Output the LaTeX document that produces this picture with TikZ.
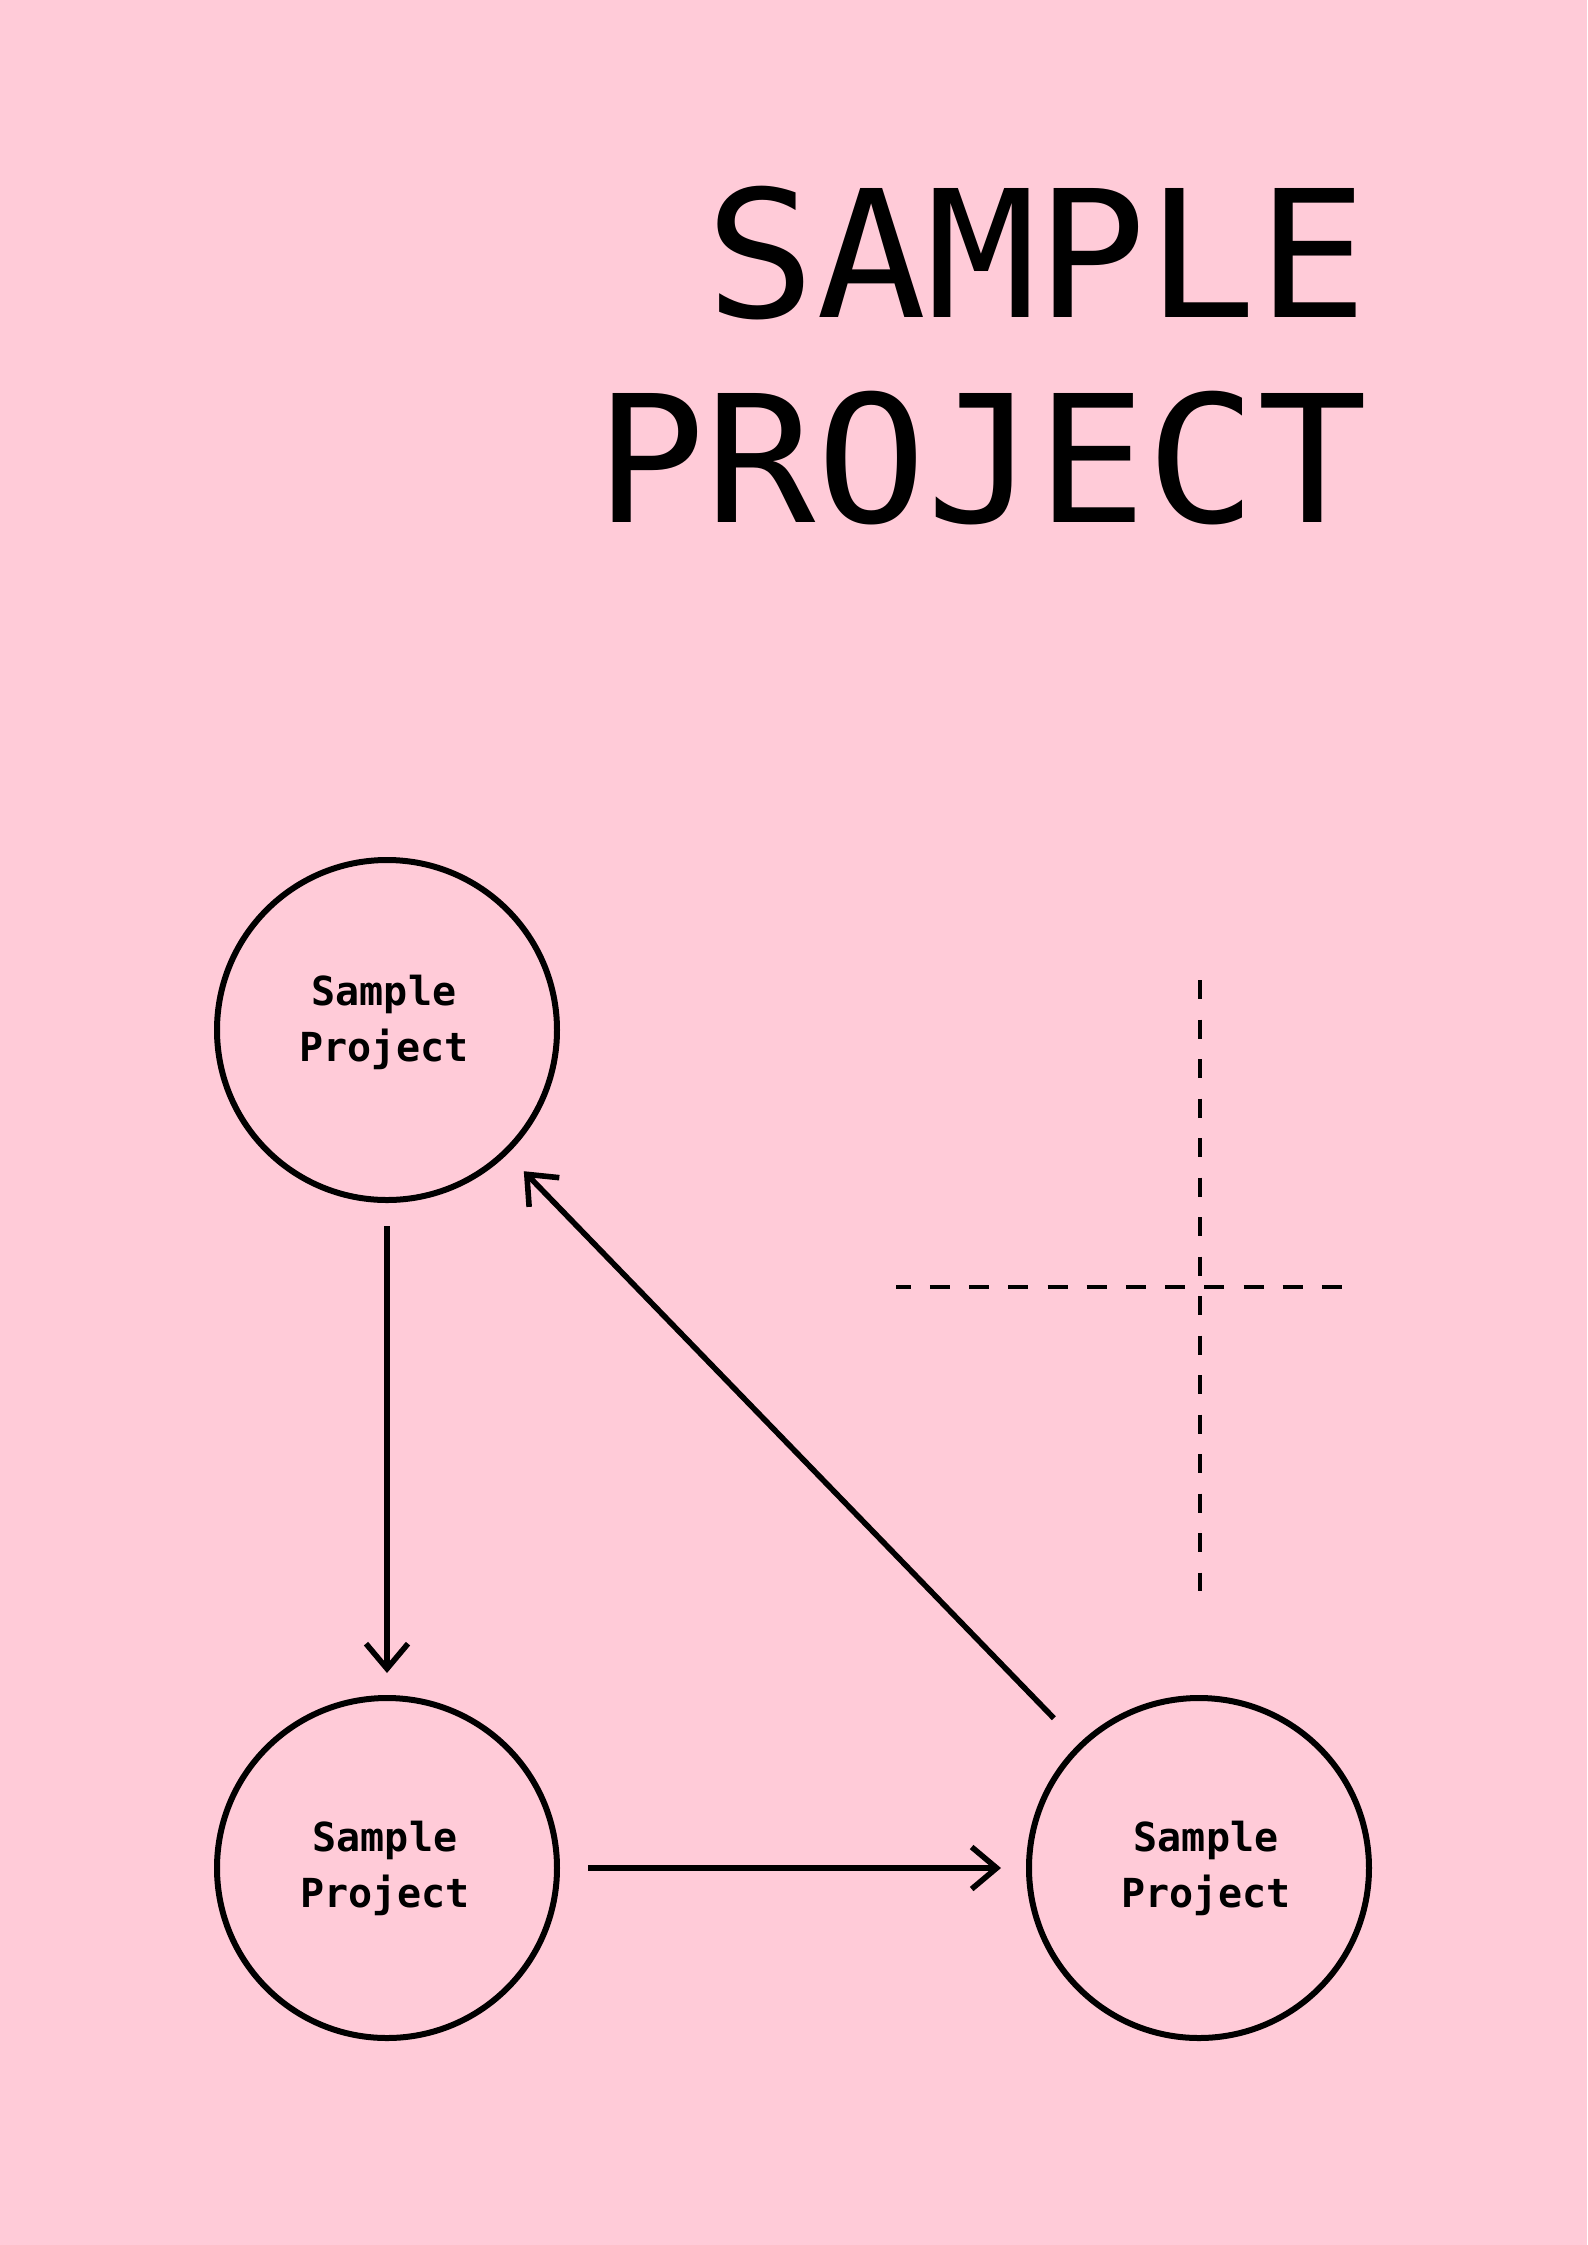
\documentclass[tikz,border=0pt]{standalone}
\usepackage{fontspec}
\usetikzlibrary{arrows.meta}

\newfontfamily\titlefont[FakeStretch=1.035]{DejaVu Sans Mono}
\newfontfamily\labelfont{DejaVu Sans Mono}
\definecolor{bgpink}{RGB}{255,203,216}

\tikzset{
	headline/.style={anchor=base east, inner sep=0pt, font={\titlefont\fontsize{88.5}{102.5}\selectfont}},
	proj/.style={circle, draw, line width=3pt, minimum size=170pt, inner sep=0pt, outer sep=0pt},
	projlabel/.style={align=center, inner sep=0pt, font={\labelfont\bfseries\fontsize{20}{28}\selectfont}},
	flow/.style={line width=2.8pt, -{Straight Barb[length=12.5pt, width=21pt]}},
	guide/.style={line width=1.9pt}
}

\begin{document}
\begin{tikzpicture}[x=0.5pt, y=-0.5pt]
		\fill[bgpink] (0,0) rectangle (1587,2245);
		
		\node[headline] (title1) at (1368,317) {SAMPLE};
		\node[headline] (title2) at (1368,522) {PROJECT};
		
		\foreach \name/\x/\y/\dx/\dy in {upper/387/1030/-3/-7.5, lowerleft/387/1868/-2/0, lowerright/1199/1868/7/0}
		{
			\node[proj] (\name) at (\x,\y) {};
			\node[projlabel] (\name txt) at (\x+\dx,\y+\dy) {Sample\\Project};
		}
		
		\draw[flow, shorten <=13pt, shorten >=12.5pt] (upper) -- (lowerleft);
		\draw[flow, shorten <=15.5pt, shorten >=14pt] (lowerleft) -- (lowerright);
		\draw[flow, shorten <=19.3pt, shorten >=13.3pt] (lowerright) -- (upper);
		
		\draw[guide, dash pattern=on 9.7pt off 10.05pt] (1200,980) -- (1200,1591);
		\draw[guide, dash pattern=on 10pt off 9.6pt, dash phase=2.65pt] (896,1287) -- (1342,1287);
	\end{tikzpicture}
\end{document}
